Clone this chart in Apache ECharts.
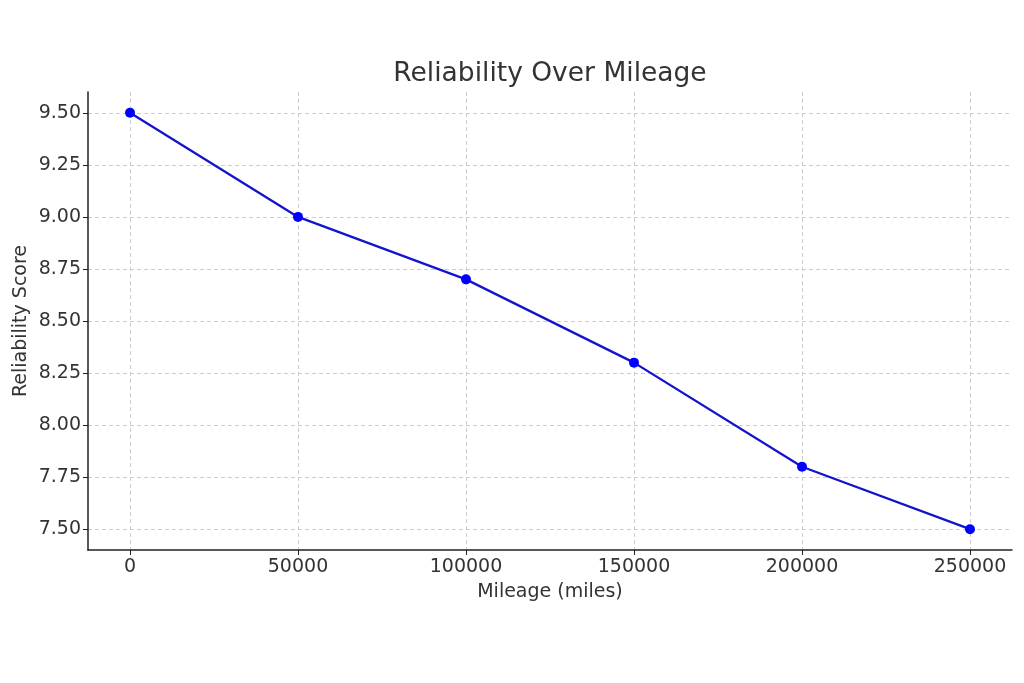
<!DOCTYPE html>
<html><head><meta charset="utf-8">
<script src="https://cdn.jsdelivr.net/npm/echarts@6/dist/echarts.min.js"></script>
<style>html,body{margin:0;padding:0;background:#fff}#c{width:1024px;height:683px}</style>
</head><body><div id="c"></div>
<script>
const mileage = [0, 50000, 100000, 150000, 200000, 250000];
const reliability = [9.5, 9.0, 8.7, 8.3, 7.8, 7.5];
const xTicks = [0, 50000, 100000, 150000, 200000, 250000];
const yTicks = [7.5, 7.75, 8.0, 8.25, 8.5, 8.75, 9.0, 9.25, 9.5];

const font = 'DejaVu Sans';
const chart = echarts.init(document.getElementById('c'), null, {renderer: 'canvas'});
chart.setOption({
  animation: false,
  backgroundColor: '#fff',
  title: {
    text: 'Reliability Over Mileage', left: 545, top: 56, textAlign: 'center',
    textStyle: {fontFamily: font, fontSize: 26.5, fontWeight: 'normal', color: '#333'}
  },
  grid: {left: 88, right: 12, top: 92, bottom: 133, outerBoundsMode: 'none', containLabel: false},
  xAxis: {
    type: 'value', min: -12500, max: 262500,
    name: 'Mileage (miles)', nameLocation: 'middle', nameGap: 33, nameMoveOverlap: false,
    nameTextStyle: {fontFamily: font, fontSize: 19, color: '#333'},
    axisLine: {show: true, onZero: false, lineStyle: {color: '#222', width: 1.5}},
    axisTick: {show: true, length: 5, lineStyle: {color: '#222'}, customValues: xTicks},
    axisLabel: {customValues: xTicks, fontFamily: font, fontSize: 19, color: '#333', margin: 8,
      formatter: v => String(v)},
    splitLine: {show: true, lineStyle: {color: '#ccc', type: [4, 3], width: 1}}
  },
  yAxis: {
    type: 'value', min: 7.4, max: 9.6,
    name: 'Reliability Score', nameLocation: 'middle', nameGap: 57, nameMoveOverlap: false,
    nameTextStyle: {fontFamily: font, fontSize: 19, color: '#333'},
    axisLine: {show: true, onZero: false, lineStyle: {color: '#222', width: 1.5}},
    axisTick: {show: true, length: 5, lineStyle: {color: '#222'}, customValues: yTicks},
    axisLabel: {customValues: yTicks, fontFamily: font, fontSize: 19, color: '#333', margin: 7,
      formatter: v => v.toFixed(2)},
    splitLine: {show: true, lineStyle: {color: '#ccc', type: [4, 3], width: 1}}
  },
  series: [{
    type: 'line',
    data: mileage.map((m, i) => [m, reliability[i]]),
    symbol: 'circle', symbolSize: 10,
    lineStyle: {color: '#1414cc', width: 2.3},
    itemStyle: {color: '#0000ff'}
  }]
});
</script></body></html>
